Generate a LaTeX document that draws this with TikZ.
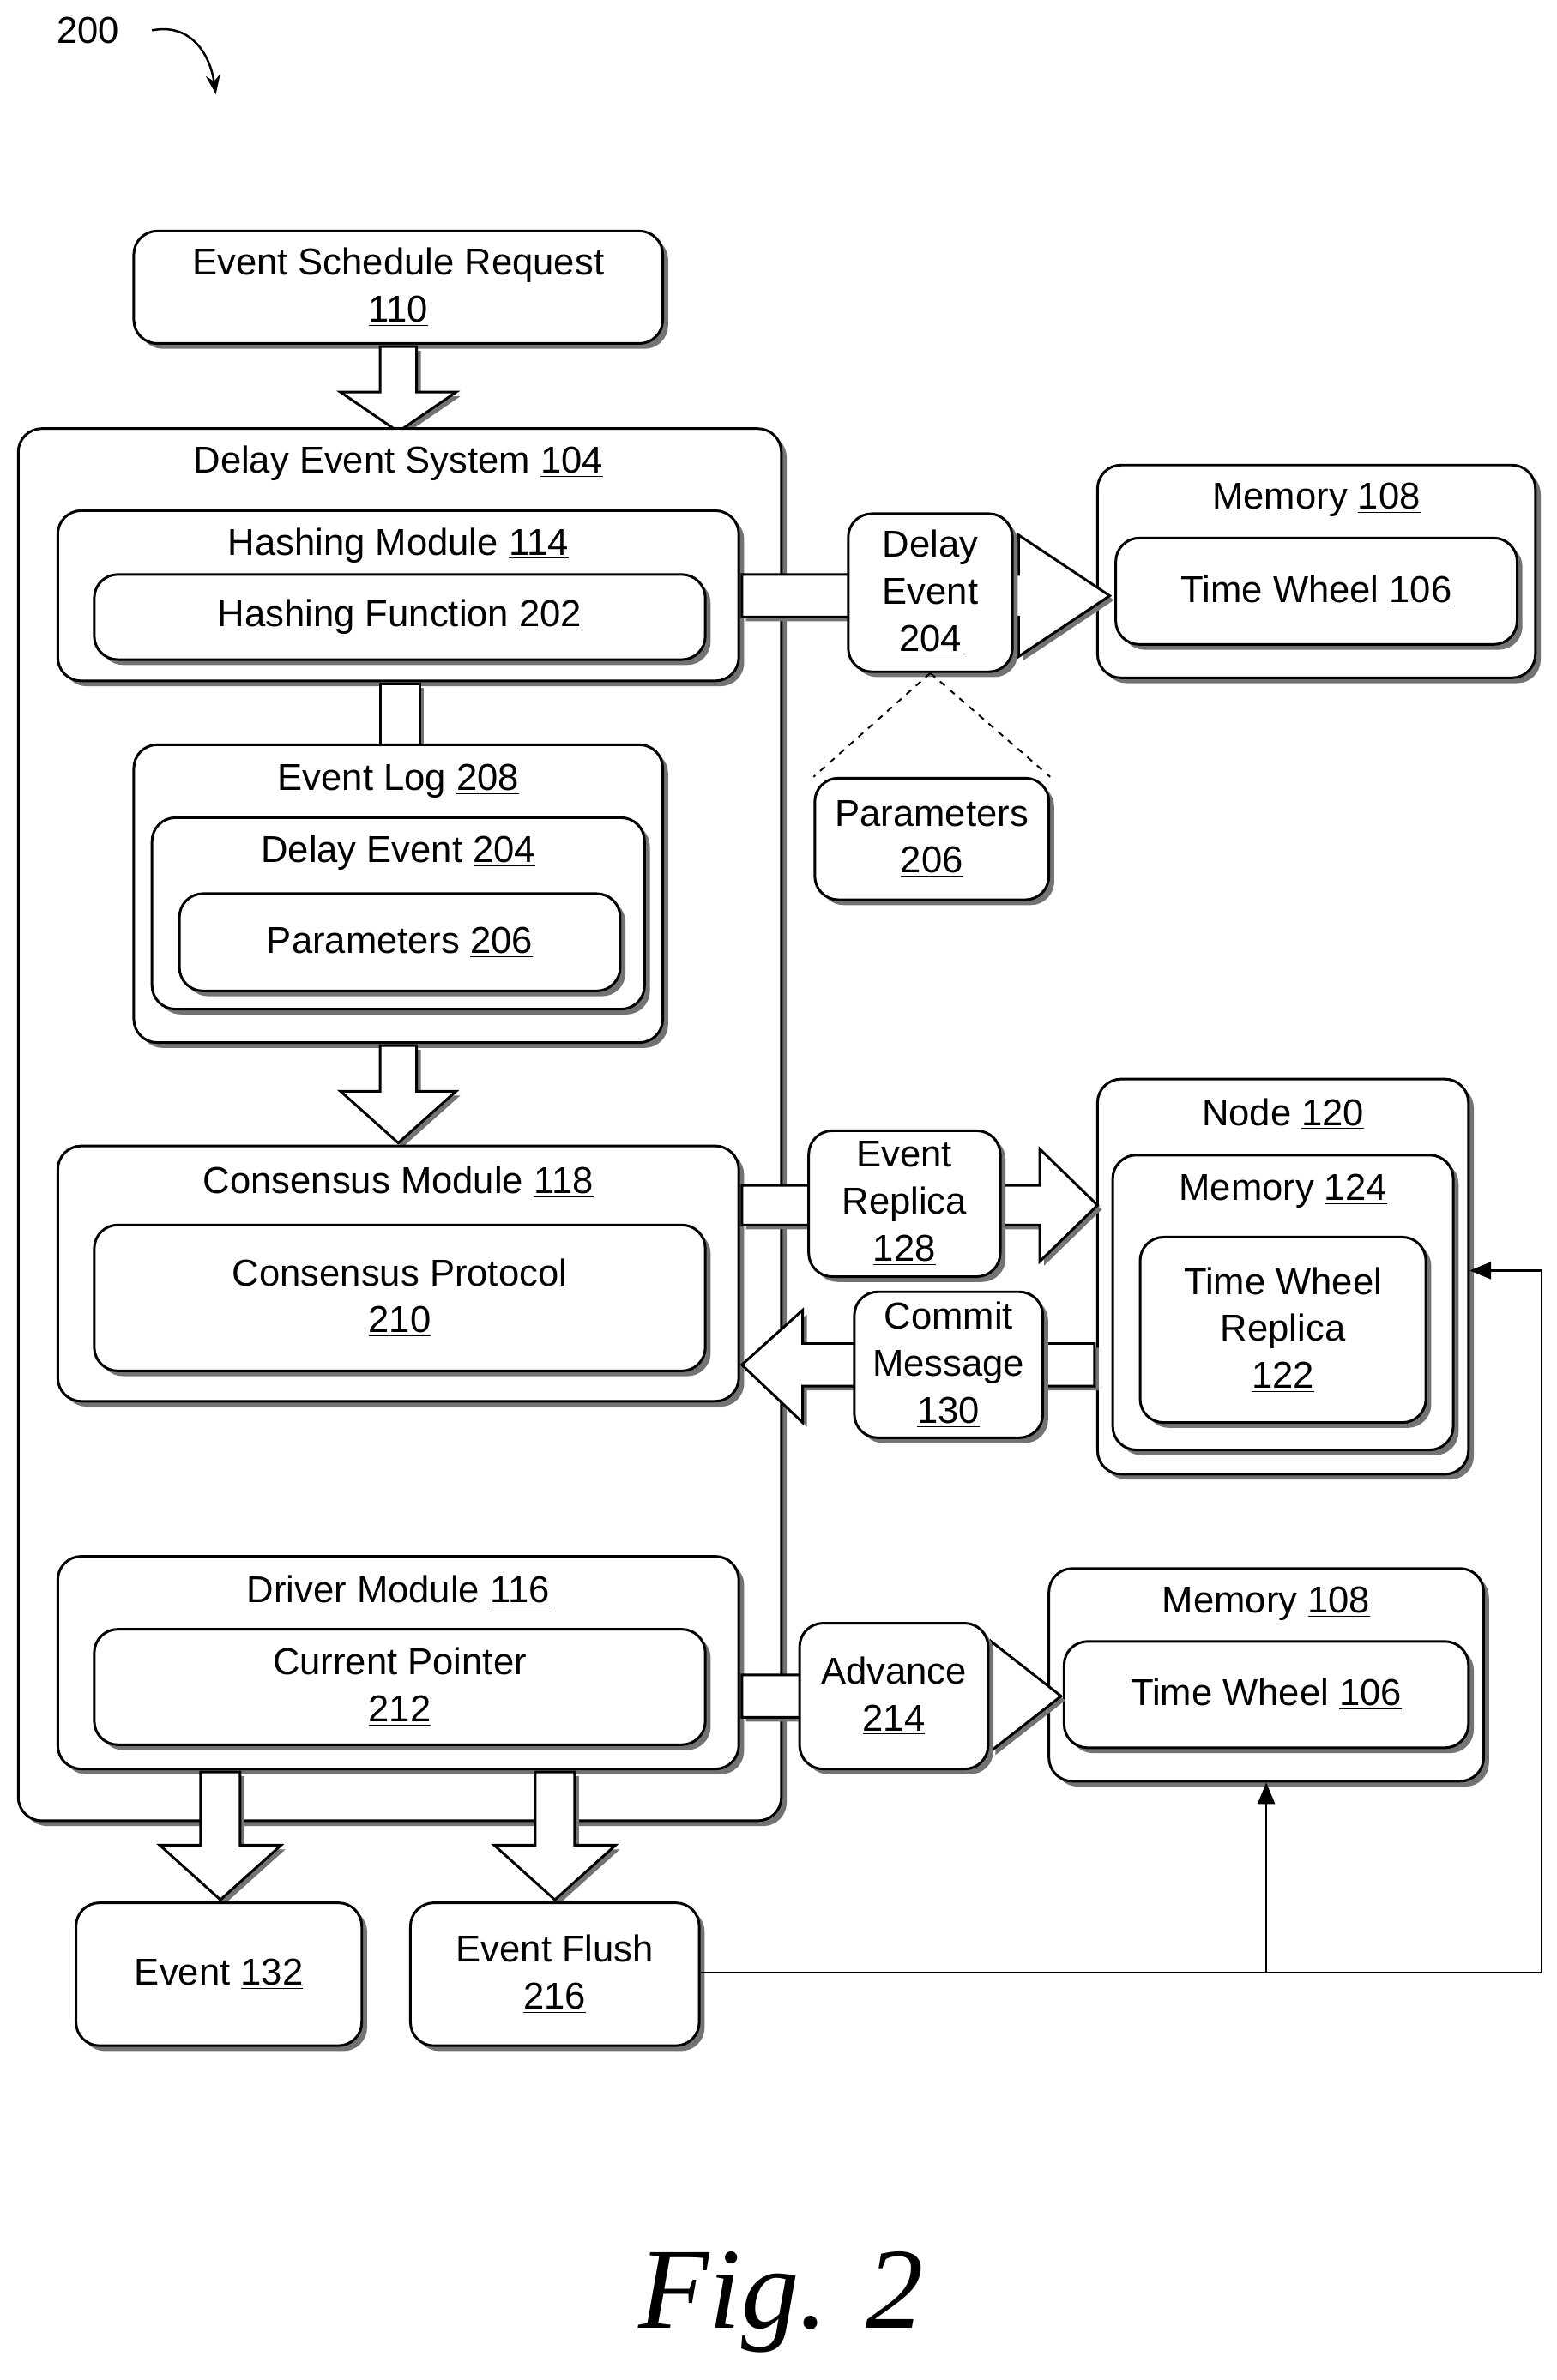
\documentclass[tikz,border=0pt]{standalone}
\usepackage{fontspec}
\setmainfont{Liberation Sans}
\newfontfamily\figfont{Liberation Serif}
\usetikzlibrary{arrows.meta,positioning,shadows}
\newcommand{\ul}[1]{\underline{#1}}
% box from corner (x1,y1) to (x2,y2), in picture pixels
\newcommand{\bx}[6][]{%
  \node[box, minimum width={(#5-#3)*0.025cm}, minimum height={(#6-#4)*0.025cm}, #1]
    (#2) at ({(#3+#5)/2},{(#4+#6)/2}) {};}
\tikzset{
  box/.style={draw, line width=1.2pt, rounded corners=11pt, fill=white, inner sep=0pt,
    drop shadow={shadow xshift=2.5pt, shadow yshift=-2.5pt, fill=black!55, opacity=1}},
  txt/.style={align=center, font=\fontsize{17.5}{22}\selectfont, inner sep=0pt},
  blockarrow/.style={draw, line width=1.2pt, fill=white, line join=miter,
    drop shadow={shadow xshift=2pt, shadow yshift=-2pt, fill=black!55, opacity=1}},
  thinarrow/.style={line width=1pt, -{Triangle[length=10pt, width=8pt]}}
}
\begin{document}
\begin{tikzpicture}[x=0.025cm, y=-0.025cm]
    \useasboundingbox (0,0) rectangle (1024,1566);

    % figure number
    \node[txt] (fignum) at (58,20) {200};
    \draw[line width=1pt, -{Stealth[length=9pt]}] (100,20) .. controls (125,15) and (138,35) .. (142,62);

    % Request
    \bx{request}{88}{152}{436}{226}
    \node[txt] at (request) {Event Schedule Request\\\ul{110}};
    \draw[blockarrow] (250,228) -- (274,228) -- (274,258) -- (300,258) -- (262,284)
        -- (224,258) -- (250,258) -- cycle;

    % Delay Event System
    \bx{des}{12}{282}{514}{1198}
    \node[txt] at (262,305) {Delay Event System \ul{104}};

    % Hashing module
    \bx{hashmod}{38}{336}{486}{448}
    \node[txt] at (262,359) {Hashing Module \ul{114}};
    \bx{hashfn}{62}{378}{464}{434}
    \node[txt] at (hashfn) {Hashing Function \ul{202}};
    \draw[blockarrow] (250,450) rectangle (276,490);

    % Event log
    \bx{eventlog}{88}{490}{436}{686}
    \node[txt] at (262,514) {Event Log \ul{208}};
    \bx{logevent}{100}{538}{424}{664}
    \node[txt] at (262,561) {Delay Event \ul{204}};
    \bx{logparams}{118}{588}{408}{652}
    \node[txt] at (logparams) {Parameters \ul{206}};
    \draw[blockarrow] (250,688) -- (274,688) -- (274,718) -- (300,718) -- (262,752)
        -- (224,718) -- (250,718) -- cycle;

    % Consensus module
    \bx{consmod}{38}{754}{486}{922}
    \node[txt] at (262,778) {Consensus Module \ul{118}};
    \bx{consproto}{62}{806}{464}{902}
    \node[txt] at (consproto) {Consensus Protocol\\\ul{210}};

    % Driver module
    \bx{drivermod}{38}{1024}{486}{1164}
    \node[txt] at (262,1047) {Driver Module \ul{116}};
    \bx{curptr}{62}{1072}{464}{1148}
    \node[txt] at (curptr) {Current Pointer\\\ul{212}};

    % outputs
    \foreach \cx in {145,365}
        \draw[blockarrow] (\cx-13,1166) -- (\cx+13,1166) -- (\cx+13,1214) -- (\cx+40,1214)
            -- (\cx,1250) -- (\cx-40,1214) -- (\cx-13,1214) -- cycle;
    \bx{event}{50}{1252}{238}{1346}
    \node[txt] at (event) {Event \ul{132}};
    \bx{flush}{270}{1252}{460}{1346}
    \node[txt] at (flush) {Event Flush\\\ul{216}};

    % Memory 108 (top)
    \bx{memtop}{722}{306}{1010}{446}
    \node[txt] at (866,329) {Memory \ul{108}};
    \bx{wheeltop}{734}{354}{998}{424}
    \node[txt] at (wheeltop) {Time Wheel \ul{106}};
    \draw[blockarrow] (488,378) -- (670,378) -- (670,352) -- (730,392) -- (670,432)
        -- (670,406) -- (488,406) -- cycle;
    \bx{delayevent}{558}{338}{666}{442}
    \node[txt] at (delayevent) {Delay\\Event\\\ul{204}};
    \bx{params}{536}{512}{690}{592}
    \node[txt] at (params) {Parameters\\\ul{206}};
    \draw[dashed, line width=0.8pt] (delayevent.south) -- (params.north west);
    \draw[dashed, line width=0.8pt] (delayevent.south) -- (params.north east);

    % Node 120
    \bx{node}{722}{710}{966}{970}
    \node[txt] at (844,733) {Node \ul{120}};
    \bx{memnode}{732}{760}{956}{954}
    \node[txt] at (844,784) {Memory \ul{124}};
    \bx{replica}{750}{814}{938}{936}
    \node[txt] at (replica) {Time Wheel\\Replica\\\ul{122}};
    \draw[blockarrow] (488,780) -- (684,780) -- (684,756) -- (722,793) -- (684,830)
        -- (684,806) -- (488,806) -- cycle;
    \bx{evreplica}{532}{744}{658}{840}
    \node[txt] at (evreplica) {Event\\Replica\\\ul{128}};
    \draw[blockarrow] (720,884) -- (528,884) -- (528,862) -- (488,898) -- (528,936)
        -- (528,912) -- (720,912) -- cycle;
    \bx{commit}{562}{850}{686}{946}
    \node[txt] at (commit) {Commit\\Message\\\ul{130}};

    % Memory 108 (bottom)
    \bx{membot}{690}{1032}{976}{1172}
    \node[txt] at (833,1055) {Memory \ul{108}};
    \bx{wheelbot}{700}{1080}{966}{1150}
    \node[txt] at (wheelbot) {Time Wheel \ul{106}};
    \draw[blockarrow] (488,1102) -- (652,1102) -- (652,1080) -- (698,1116) -- (652,1152)
        -- (652,1130) -- (488,1130) -- cycle;
    \bx{advance}{526}{1068}{650}{1164}
    \node[txt] at (advance) {Advance\\\ul{214}};

    % flush connectors
    \coordinate (corner) at (1014,1298);
    \draw[line width=1pt] (flush.east |- 0,1298) -- (corner);
    \draw[thinarrow] (corner) |- (node.east |- 0,836);
    \draw[thinarrow] (833,1298) -- (membot.south -| 833,0);

    \node[font=\figfont\itshape\fontsize{54}{54}\selectfont] (figlabel) at (514,1515) {Fig. 2};
\end{tikzpicture}
\end{document}
